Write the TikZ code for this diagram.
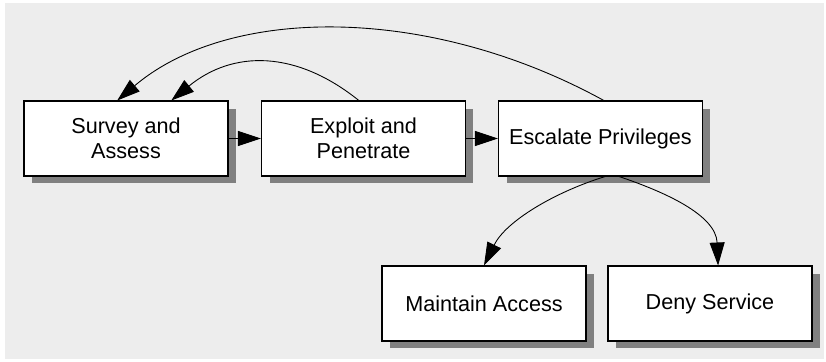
\documentclass[tikz,border=0pt]{standalone}
\usepackage{fontspec}
\setmainfont{Liberation Sans}
\usetikzlibrary{arrows.meta,shadows}

\begin{document}
\begin{tikzpicture}[x=0.02cm, y=-0.02cm,
   stage/.style={draw, fill=white, line width=.6pt, minimum width=4.08cm,
     minimum height=1.5cm, align=center, font=\fontsize{12.3}{14.2}\selectfont,
     drop shadow={shadow xshift=.16cm, shadow yshift=-.15cm, fill=black!50, opacity=1}},
   flow/.style={-{Triangle[length=.46cm, width=.3cm]}, line width=.5pt}]
   \fill[color=black!7] (5,3) rectangle (824,359);
   \useasboundingbox (0,0) rectangle (826,362);
   % stages
   \node[stage] (survey) at (126,138.5) {Survey and\\Assess};
   \node[stage] (exploit) at (363.5,138.5) {Exploit and\\Penetrate};
   \node[stage] (escalate) at (600.5,138.5) {Escalate Privileges};
   \node[stage] (maintain) at (484,303.5) {Maintain Access};
   \node[stage] (deny) at (710,303.5) {Deny Service};
   % forward
   \draw[flow] (survey) -- (exploit);
   \draw[flow] (exploit) -- (escalate);
   % back
   \draw[flow] (escalate.85) .. controls (430,5) and (230,5) .. (survey.103);
   \draw[flow] (exploit.97) .. controls (296,50) and (233,50) .. (survey.40);
   % down
   \draw[flow] (escalate.-83) .. controls (555,192) and (506,221) .. (maintain.north);
   \draw[flow] (escalate.-64) .. controls (665,192) and (716,215) .. (deny.78);
\end{tikzpicture}
\end{document}
